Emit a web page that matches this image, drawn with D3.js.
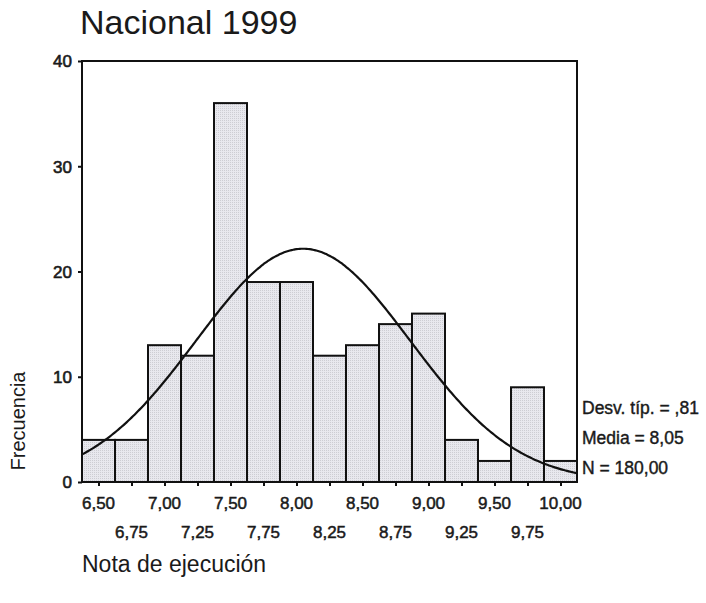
<!DOCTYPE html>
<html>
<head>
<meta charset="utf-8">
<script src="https://cdn.jsdelivr.net/npm/d3@7"></script>
<style>
  html, body { margin: 0; padding: 0; background: #fff; }
  svg { display: block; }
  text { font-family: "Liberation Sans", Arial, sans-serif; fill: #1a1a1a; }
</style>
</head>
<body>
<svg id="chart" width="706" height="603"></svg>
<script>
// ---- data ----
const binLabels = ["6,50","6,75","7,00","7,25","7,50","7,75","8,00","8,25","8,50","8,75","9,00","9,25","9,50","9,75","10,00"];
const binCenters = [6.50,6.75,7.00,7.25,7.50,7.75,8.00,8.25,8.50,8.75,9.00,9.25,9.50,9.75,10.00];
const counts = [4,4,13,12,36,19,19,12,13,15,16,4,2,9,2];
const yTicks = [0,10,20,30,40];
const statLines = ["Desv. típ. = ,81","Media = 8,05","N = 180,00"];
const stdDev = 0.81, mean = 8.05, nTotal = 180, binWidth = 0.25;
const titleText = "Nacional 1999";
const xTitle = "Nota de ejecución";
const yTitle = "Frecuencia";

// ---- layout ----
const L = 82, R = 577, T = 61, B = 482;
const svg = d3.select("#chart");

const defs = svg.append("defs");
const pat = defs.append("pattern").attr("id","dots").attr("width",2).attr("height",2).attr("patternUnits","userSpaceOnUse");
pat.append("rect").attr("width",2).attr("height",2).attr("fill","#e8e8ee");
pat.append("rect").attr("width",1).attr("height",1).attr("fill","#cdcdd3");

const x = d3.scaleLinear().domain([binCenters[0]-binWidth/2, binCenters[binCenters.length-1]+binWidth/2]).range([L,R]);
const y = d3.scaleLinear().domain([0,40]).range([B,T]);

// title
svg.append("text").attr("x",80).attr("y",34).attr("font-size",34).text(titleText);

// bars
svg.append("g").selectAll("rect").data(binCenters).join("rect")
  .attr("x", d => x(d - binWidth/2))
  .attr("width", d => x(d + binWidth/2) - x(d - binWidth/2))
  .attr("y", (d,i) => y(counts[i]))
  .attr("height", (d,i) => y(0) - y(counts[i]))
  .attr("fill","url(#dots)")
  .attr("stroke","#111").attr("stroke-width",2);

// normal curve
const pts = d3.range(0, 301).map(i => {
  const v = x.domain()[0] + (x.domain()[1]-x.domain()[0]) * i / 300;
  const dens = nTotal * binWidth / (stdDev * Math.sqrt(2*Math.PI)) * Math.exp(-0.5*Math.pow((v-mean)/stdDev,2));
  return [v, dens];
});
svg.append("path").datum(pts)
  .attr("d", d3.line().x(d => x(d[0])).y(d => y(d[1])).curve(d3.curveBasis))
  .attr("fill","none").attr("stroke","#111").attr("stroke-width",2.2);

// frame
svg.append("rect").attr("x",L).attr("y",T).attr("width",R-L).attr("height",B-T)
  .attr("fill","none").attr("stroke","#111").attr("stroke-width",2);

// y axis
const yAxis = d3.axisLeft(y).tickValues(yTicks).tickSize(4).tickPadding(6).tickFormat(d3.format("d"));
const gy = svg.append("g").attr("transform",`translate(${L},0)`).call(yAxis);
gy.select(".domain").remove();
gy.selectAll("line").attr("stroke","#111").attr("stroke-width",2);
gy.selectAll("text").attr("font-size",17).attr("font-family","Liberation Sans, Arial, sans-serif")
  .attr("fill","#1a1a1a").attr("stroke","#1a1a1a").attr("stroke-width",0.6).attr("dy","0.35em");

// x axis
const xAxis = d3.axisBottom(x).tickValues(binCenters).tickSize(4).tickFormat("");
const gx = svg.append("g").attr("transform",`translate(0,${B})`).call(xAxis);
gx.select(".domain").remove();
gx.selectAll("line").attr("stroke","#111").attr("stroke-width",2);
svg.append("g").selectAll("text").data(binCenters).join("text")
  .attr("x", d => x(d))
  .attr("y", (d,i) => i % 2 === 0 ? 509 : 538)
  .attr("text-anchor","middle").attr("font-size",17)
  .attr("stroke","#1a1a1a").attr("stroke-width",0.5)
  .text((d,i) => binLabels[i]);

// stats
svg.append("g").selectAll("text").data(statLines).join("text")
  .attr("x",582).attr("y",(d,i) => 414 + i*30)
  .attr("font-size",17.5).attr("stroke","#1a1a1a").attr("stroke-width",0.4)
  .text(d => d);

// axis titles
svg.append("text").attr("transform","translate(25,421) rotate(-90)")
  .attr("text-anchor","middle").attr("font-size",20).text(yTitle);
svg.append("text").attr("x",82).attr("y",572).attr("font-size",23).text(xTitle);
</script>
</body>
</html>
